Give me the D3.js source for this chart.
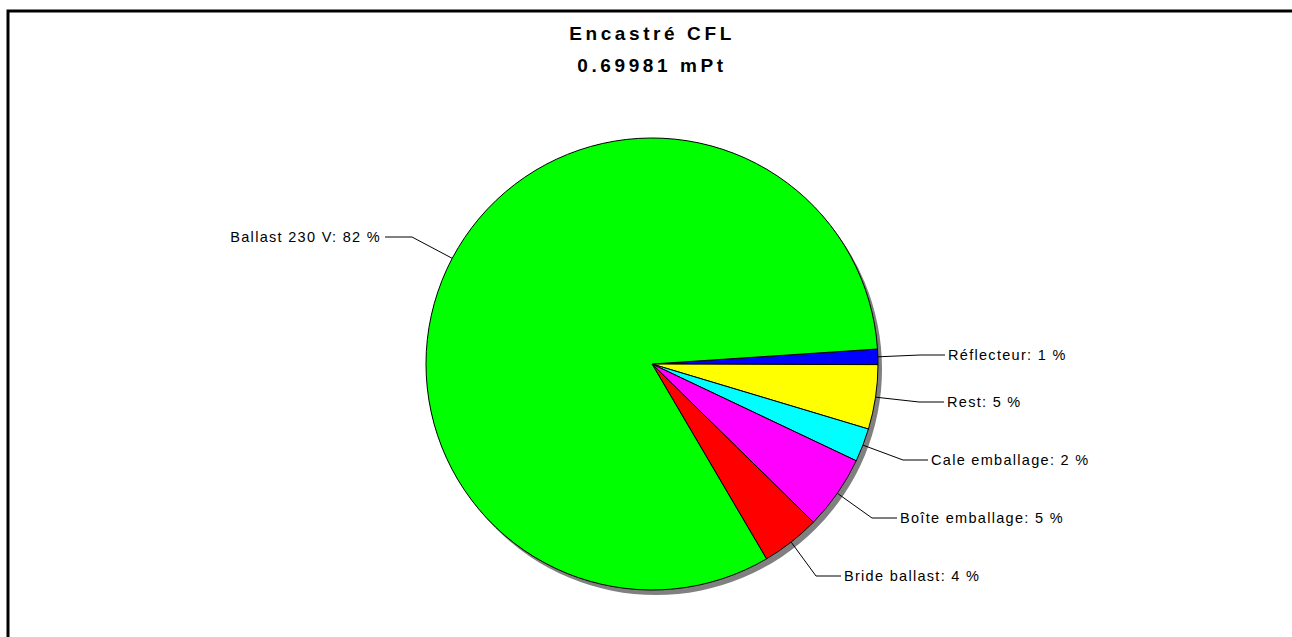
<!DOCTYPE html>
<html><head><meta charset="utf-8">
<script src="https://cdn.jsdelivr.net/npm/d3@7/dist/d3.min.js"></script>
<style>body{margin:0;background:#fff;overflow:hidden}</style>
</head><body>
<script>
const titleLines = ["Encastré CFL", "0.69981 mPt"];
const categories = ["Réflecteur", "Rest", "Cale emballage", "Boîte emballage", "Bride ballast", "Ballast 230 V"];
const shares = [1.1, 4.6, 2.4, 5.3, 4.2, 82.4];
const labelPercents = [1, 5, 2, 5, 4, 82];
const colors = ["#0000FF", "#FFFF00", "#00FFFF", "#FF00FF", "#FF0000", "#00FF00"];
// label anchor positions (layout)
const labelLayout = [
  {x: 948, y: 355, side: 1},
  {x: 947, y: 402, side: 1},
  {x: 931, y: 460, side: 1},
  {x: 900, y: 518, side: 1},
  {x: 844, y: 576, side: 1},
  {x: 381, y: 237, side: -1}
];

const W = 1292, H = 637;
const svg = d3.select("body").append("svg").attr("width", W).attr("height", H);
svg.append("rect").attr("width", W).attr("height", H).attr("fill", "#fff");
// frame
svg.append("rect").attr("x", 8).attr("y", 11).attr("width", W + 20).attr("height", H + 20)
  .attr("fill", "none").attr("stroke", "#000").attr("stroke-width", 3);

// title
svg.selectAll("text.title").data(titleLines).enter().append("text")
  .attr("class", "title")
  .attr("x", 652).attr("y", (d, i) => 40 + i * 32)
  .attr("text-anchor", "middle")
  .attr("font-family", "Liberation Sans, Arial, sans-serif")
  .attr("font-weight", "bold").attr("font-size", 19)
  .attr("letter-spacing", 3.6)
  .text(d => d);

const cx = 652, cy = 364, R = 226;
const data = categories.map((c, i) => ({cat: c, v: shares[i], pct: labelPercents[i], color: colors[i], lay: labelLayout[i]}));
const startDeg = 86.2;
const pie = d3.pie().sort(null).value(d => d.v)
  .startAngle(startDeg * Math.PI / 180).endAngle((startDeg + 360) * Math.PI / 180);
const arcs = pie(data);
const arc = d3.arc().innerRadius(0).outerRadius(R);

const g = svg.append("g").attr("transform", `translate(${cx},${cy})`);
// shadow
g.append("circle").attr("cx", 4).attr("cy", 5).attr("r", R).attr("fill", "#808080");
g.selectAll("path.slice").data(arcs).enter().append("path")
  .attr("class", "slice")
  .attr("d", arc)
  .attr("fill", d => d.data.color)
  .attr("stroke", "#000").attr("stroke-width", 1).attr("stroke-linejoin", "round");

// leaders and labels
arcs.forEach(a => {
  const mid = (a.startAngle + a.endAngle) / 2;
  const ex = cx + Math.sin(mid) * R, ey = cy - Math.cos(mid) * R;
  const L = a.data.lay;
  const endX = L.side > 0 ? L.x - 3 : L.x + 4;
  const elbowX = L.side > 0 ? L.x - 28 : L.x + 31;
  const pts = [[ex, ey], [elbowX, L.y], [endX, L.y]];
  svg.append("path").attr("d", d3.line()(pts)).attr("fill", "none")
    .attr("stroke", "#000").attr("stroke-width", 1);
  svg.append("text")
    .attr("x", L.x).attr("y", L.y)
    .attr("dy", "0.35em")
    .attr("text-anchor", L.side > 0 ? "start" : "end")
    .attr("font-family", "Liberation Sans, Arial, sans-serif")
    .attr("font-size", 14.5).attr("letter-spacing", 1.3)
    .attr("fill", "#000")
    .text(`${a.data.cat}: ${a.data.pct} %`);
});
</script>
</body></html>
